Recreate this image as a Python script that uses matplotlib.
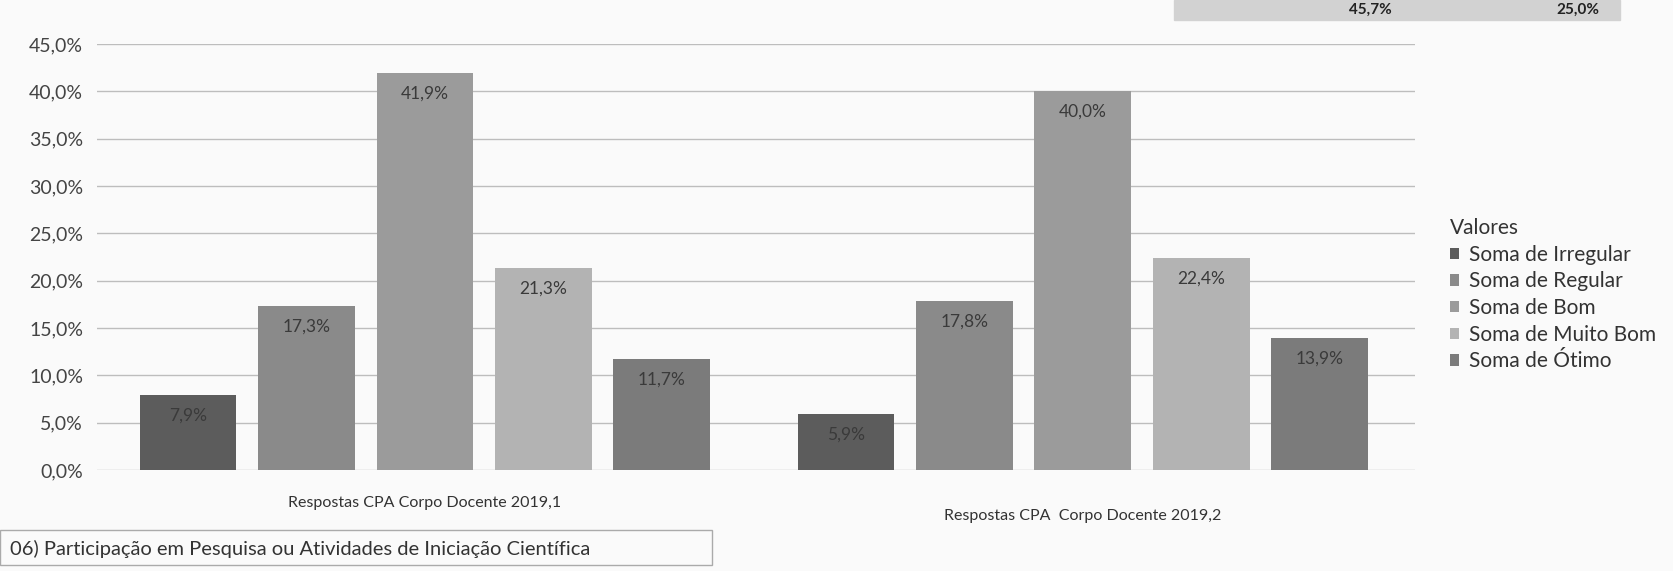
'''Respostas CPA Corpo Docente - pergunta 06'''

import matplotlib.pyplot as plt
from matplotlib.patches import Rectangle
import numpy as np

plt.rcParams['font.family'] = ['Lato', 'DejaVu Sans']

# Dados

grupos = ['Respostas CPA Corpo Docente 2019,1', 'Respostas CPA  Corpo Docente 2019,2']
series = ['Soma de Irregular', 'Soma de Regular', 'Soma de Bom',
          'Soma de Muito Bom', 'Soma de Ótimo']
irregular = [7.9, 5.9]
regular = [17.3, 17.8]
bom = [41.9, 40.0]
muito_bom = [21.3, 22.4]
otimo = [11.7, 13.9]
yticks = [0, 5, 10, 15, 20, 25, 30, 35, 40, 45]
pergunta = '06) Participação em Pesquisa ou Atividades de Iniciação Científica'
topo = ['45,7%', '25,0%']

valores = [irregular, regular, bom, muito_bom, otimo]
cores = ['#5c5c5c', '#8a8a8a', '#9b9b9b', '#b3b3b3', '#7b7b7b']

W, H = 1673, 571

# Figura

fig = plt.figure(figsize=(W / 100, H / 100), dpi=100)
fig.patch.set_facecolor('#fafafa')
ax = fig.add_axes([97 / W, 1 - 470 / H, (1415 - 97) / W, (470 - 44) / H])
ax.set_facecolor('#fafafa')

x = np.arange(len(grupos))
passo = 0.18
largura = 0.147

for i, (nome, vals, cor) in enumerate(zip(series, valores, cores)):
  pos = x + (i - 2) * passo
  barras = ax.bar(pos, vals, largura, color=cor, label=nome, zorder=2)
  for b, v in zip(barras, vals):
    ax.text(b.get_x() + b.get_width() / 2, v - 1.3,
            ('%.1f%%' % v).replace('.', ','),
            ha='center', va='top', fontsize=12.5, color='#3a3a3a', zorder=3)

ax.set_ylim(0, 45)
ax.set_xlim(-0.4985, 1.505)
ax.set_yticks(yticks)
ax.set_yticklabels([('%.1f%%' % t).replace('.', ',') for t in yticks],
                   fontsize=14, color='#444444')
ax.yaxis.grid(True, color='#bdbdbd', linewidth=1, zorder=0)
ax.tick_params(axis='both', length=0, pad=10)
ax.set_xticks([])
for s in ax.spines.values():
  s.set_visible(False)

# Rotulos das categorias
fig.text(425 / W, 1 - 503 / H, grupos[0], ha='center', va='center',
         fontsize=11.5, color='#333333')
fig.text(1083 / W, 1 - 516 / H, grupos[1], ha='center', va='center',
         fontsize=11.5, color='#333333')

# Legenda
leg = ax.legend(title='Valores', loc='upper left',
                bbox_to_anchor=(1450 / W, 1 - 218 / H),
                bbox_transform=fig.transFigure,
                frameon=False, fontsize=15, title_fontsize=15,
                handlelength=0.45, handleheight=0.45, handletextpad=0.45,
                labelspacing=0.32, alignment='left', borderpad=0,
                borderaxespad=0)
for t in leg.get_texts():
  t.set_color('#333333')
leg.get_title().set_color('#333333')

# Caixa da pergunta
fig.patches.append(Rectangle((0.0, 1 - 565 / H), 712 / W, 35 / H,
                             transform=fig.transFigure, fill=False,
                             edgecolor='#aaaaaa', linewidth=1))
fig.text(10 / W, 1 - 549 / H, pergunta, ha='left', va='center',
         fontsize=14.5, color='#333333')

# Resto da tabela anterior no topo da pagina
fig.patches.append(Rectangle((1174 / W, 1 - 20 / H), 446 / W, 20 / H,
                             transform=fig.transFigure, color='#d2d2d2'))
fig.text(1370 / W, 1 - 10 / H, topo[0], ha='center', va='center',
         fontsize=11, fontweight='bold', color='#222222')
fig.text(1578 / W, 1 - 10 / H, topo[1], ha='center', va='center',
         fontsize=11, fontweight='bold', color='#222222')

fig.savefig('out.png', dpi=100, facecolor=fig.get_facecolor())
